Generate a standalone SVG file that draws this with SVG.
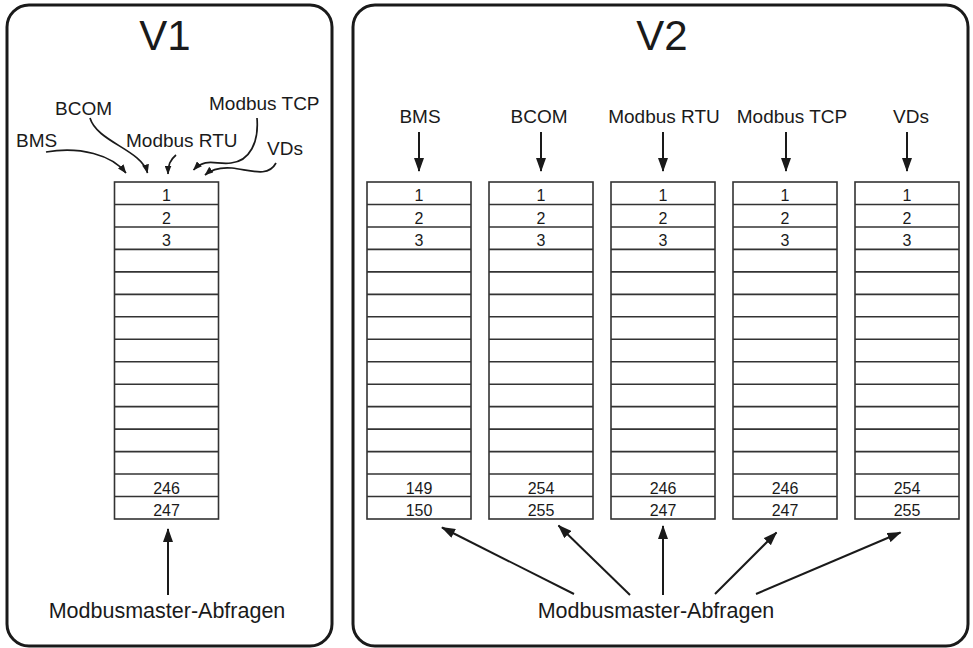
<svg xmlns="http://www.w3.org/2000/svg" xmlns:xlink="http://www.w3.org/1999/xlink" width="973" height="648" viewBox="0 0 973 648">
<style>
text{font-family:"Liberation Sans",Arial,Helvetica,sans-serif;fill:#1a1a1a}
.title{font-size:42px;text-anchor:middle}
.lbl{font-size:19px}
.lblc{font-size:19px;text-anchor:middle}
.foot{font-size:21.5px;text-anchor:middle}
.cell{font-size:16px;text-anchor:middle}
.frame{fill:#fff;stroke:#1a1a1a;stroke-width:3}
.grid rect{fill:#fff;stroke:#333;stroke-width:1.6}
.grid line{stroke:#333;stroke-width:1.6}
.arr{fill:none;stroke:#1a1a1a;stroke-width:2}
.carr{fill:none;stroke:#1a1a1a;stroke-width:1.7}
</style>
<defs>
<marker id="ah" markerUnits="userSpaceOnUse" markerWidth="14" markerHeight="10" refX="13" refY="5" orient="auto">
<path d="M0,0 L14,5 L0,10 z" fill="#1a1a1a"/>
</marker>
<marker id="as" markerUnits="userSpaceOnUse" markerWidth="9" markerHeight="7" refX="8.5" refY="3.5" orient="auto">
<path d="M0,0 L9,3.5 L0,7 z" fill="#1a1a1a"/>
</marker>
<g id="grid" class="grid">
<rect x="0" y="0" width="104" height="337"/>
<line x1="0" y1="22.47" x2="104" y2="22.47"/>
<line x1="0" y1="44.93" x2="104" y2="44.93"/>
<line x1="0" y1="67.4" x2="104" y2="67.4"/>
<line x1="0" y1="89.87" x2="104" y2="89.87"/>
<line x1="0" y1="112.33" x2="104" y2="112.33"/>
<line x1="0" y1="134.8" x2="104" y2="134.8"/>
<line x1="0" y1="157.27" x2="104" y2="157.27"/>
<line x1="0" y1="179.73" x2="104" y2="179.73"/>
<line x1="0" y1="202.2" x2="104" y2="202.2"/>
<line x1="0" y1="224.67" x2="104" y2="224.67"/>
<line x1="0" y1="247.13" x2="104" y2="247.13"/>
<line x1="0" y1="269.6" x2="104" y2="269.6"/>
<line x1="0" y1="292.07" x2="104" y2="292.07"/>
<line x1="0" y1="314.53" x2="104" y2="314.53"/>
</g>
</defs>
<rect width="973" height="648" fill="#fff"/>

<g id="v1-frame">
<rect class="frame" x="7" y="5" width="325" height="641" rx="22"/>
<text class="title" x="165" y="50">V1</text>
</g>
<g id="v2-frame">
<rect class="frame" x="353" y="5" width="615" height="641" rx="22"/>
<text class="title" x="662" y="50">V2</text>
</g>

<g id="v1-labels">
<text class="lbl" x="55" y="115">BCOM</text>
<text class="lbl" x="16" y="146.5">BMS</text>
<text class="lbl" x="126" y="146.5">Modbus RTU</text>
<text class="lbl" x="209" y="110">Modbus TCP</text>
<text class="lbl" x="267" y="155">VDs</text>
</g>

<g id="v1-table">
<use xlink:href="#grid" x="114.5" y="182"/>
<text class="cell" x="166.5" y="201">1</text>
<text class="cell" x="166.5" y="223.5">2</text>
<text class="cell" x="166.5" y="246">3</text>
<text class="cell" x="166.5" y="493.5">246</text>
<text class="cell" x="166.5" y="516">247</text>
</g>

<g id="v1-footer">
<text class="foot" x="167" y="618">Modbusmaster-Abfragen</text>
</g>

<g id="v2-labels">
<text class="lblc" x="420" y="122.5">BMS</text>
<text class="lblc" x="539" y="122.5">BCOM</text>
<text class="lblc" x="664" y="122.5">Modbus RTU</text>
<text class="lblc" x="792" y="122.5">Modbus TCP</text>
<text class="lblc" x="911" y="122.5">VDs</text>
</g>

<g id="v2-table-bms">
<use xlink:href="#grid" x="367" y="182"/>
<text class="cell" x="419" y="201">1</text>
<text class="cell" x="419" y="223.5">2</text>
<text class="cell" x="419" y="246">3</text>
<text class="cell" x="419" y="493.5">149</text>
<text class="cell" x="419" y="516">150</text>
</g>
<g id="v2-table-bcom">
<use xlink:href="#grid" x="489" y="182"/>
<text class="cell" x="541" y="201">1</text>
<text class="cell" x="541" y="223.5">2</text>
<text class="cell" x="541" y="246">3</text>
<text class="cell" x="541" y="493.5">254</text>
<text class="cell" x="541" y="516">255</text>
</g>
<g id="v2-table-rtu">
<use xlink:href="#grid" x="611" y="182"/>
<text class="cell" x="663" y="201">1</text>
<text class="cell" x="663" y="223.5">2</text>
<text class="cell" x="663" y="246">3</text>
<text class="cell" x="663" y="493.5">246</text>
<text class="cell" x="663" y="516">247</text>
</g>
<g id="v2-table-tcp">
<use xlink:href="#grid" x="733" y="182"/>
<text class="cell" x="785" y="201">1</text>
<text class="cell" x="785" y="223.5">2</text>
<text class="cell" x="785" y="246">3</text>
<text class="cell" x="785" y="493.5">246</text>
<text class="cell" x="785" y="516">247</text>
</g>
<g id="v2-table-vds">
<use xlink:href="#grid" x="855" y="182"/>
<text class="cell" x="907" y="201">1</text>
<text class="cell" x="907" y="223.5">2</text>
<text class="cell" x="907" y="246">3</text>
<text class="cell" x="907" y="493.5">254</text>
<text class="cell" x="907" y="516">255</text>
</g>

<g id="v2-footer">
<text class="foot" x="656" y="618">Modbusmaster-Abfragen</text>
</g>

<g id="connectors">
<path class="carr" d="M46,152 C80,146 112,155 126,173" marker-end="url(#as)"/>
<path class="carr" d="M90,118 C97,142 142,150 147.5,173" marker-end="url(#as)"/>
<path class="carr" d="M176,155 C170,160 168,165 168,174" marker-end="url(#as)"/>
<path class="carr" d="M257,118 C259,142 250,161 231,163 C216,165 206,157 193.5,170" marker-end="url(#as)"/>
<path class="carr" d="M276,163 C268,178 250,170 232,168 C220,167 212,169 205,175" marker-end="url(#as)"/>
<line class="arr" x1="168" y1="595" x2="168" y2="529" marker-end="url(#ah)"/>
<line class="arr" x1="419" y1="132" x2="419" y2="171" marker-end="url(#ah)"/>
<line class="arr" x1="541" y1="132" x2="541" y2="171" marker-end="url(#ah)"/>
<line class="arr" x1="663" y1="132" x2="663" y2="171" marker-end="url(#ah)"/>
<line class="arr" x1="786" y1="132" x2="786" y2="171" marker-end="url(#ah)"/>
<line class="arr" x1="907" y1="132" x2="907" y2="171" marker-end="url(#ah)"/>
<line class="arr" x1="574" y1="594" x2="442" y2="527.5" marker-end="url(#ah)"/>
<line class="arr" x1="630" y1="595" x2="558.5" y2="525.5" marker-end="url(#ah)"/>
<line class="arr" x1="663" y1="595" x2="663" y2="526" marker-end="url(#ah)"/>
<line class="arr" x1="715" y1="594" x2="776.5" y2="532.5" marker-end="url(#ah)"/>
<line class="arr" x1="756" y1="594" x2="900.5" y2="532.5" marker-end="url(#ah)"/>
</g>
</svg>
